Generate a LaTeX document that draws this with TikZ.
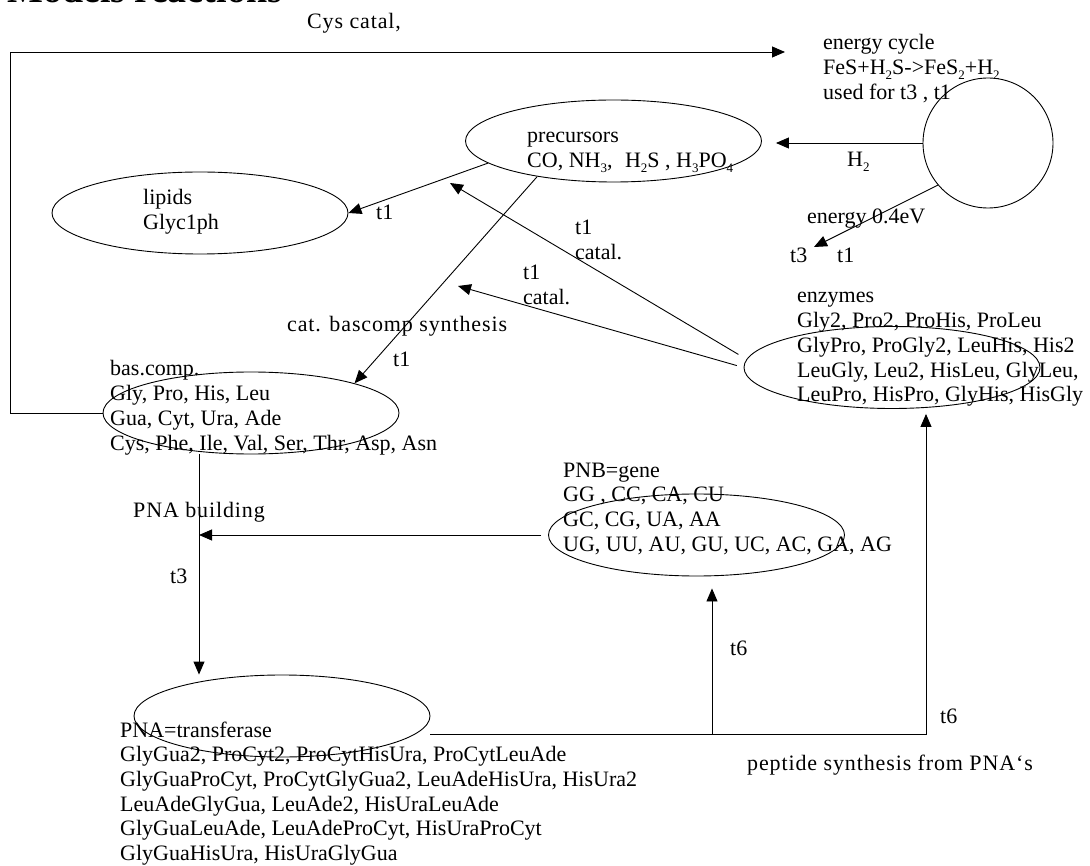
\documentclass[tikz,border=0pt]{standalone}
\usepackage{fontspec}
\setmainfont{Liberation Serif}
\usetikzlibrary{shapes.geometric,arrows.meta}
\newcommand\subs[1]{\raisebox{-4.5pt}{\fontsize{13}{13}\selectfont #1}}
\newcommand\txtlines[1]{\vtop{\baselineskip=24.7pt\lineskiplimit=-30pt\lineskip=0pt #1}}
\begin{document}
\begin{tikzpicture}[x=1pt,y=-1pt,
  font=\fontsize{22}{24.7}\selectfont,
  ell/.style={draw, ellipse, minimum width=296pt, minimum height=82pt, inner sep=0pt, line width=0.9pt},
  txt/.style={anchor=base west, inner sep=0pt},
  wide/.style={font=\fontsize{22}{24.7}\selectfont\addfontfeature{LetterSpace=4}},
  ln/.style={draw, line width=0.9pt},
  arr/.style={draw, line width=0.9pt, -{Triangle[length=13pt,width=11pt]}}]
\useasboundingbox (0,0) rectangle (1090,866);
\clip (0,0) rectangle (1090,866);

% title (cut off at top)
\node[txt, font=\bfseries\fontsize{38}{40}\selectfont] (title) at (7,3) {Models reactions};

% shapes
\node[ell] (lip) at (200,213) {};
\node[ell] (prec) at (613.5,141) {};
\node[ell] (bas) at (251,413) {};
\node[ell] (enz) at (892,367.5) {};
\node[ell] (pnb) at (696.5,535) {};
\node[ell] (pna) at (282,716) {};
\node[draw, circle, minimum size=130pt, inner sep=0pt, line width=0.9pt] (cyc) at (988,143) {};

% texts
\node[txt] (ectext) at (823,50) {\txtlines{\hbox{energy cycle}\hbox{FeS+H\subs{2}S->FeS\subs{2}+H\subs{2}}\hbox{used for t3 , t1}}};
\node[txt] (prectext) at (527,143) {\txtlines{\hbox{precursors}\hbox{CO, NH\subs{3},\hspace{7pt} H\subs{2}S , H\subs{3}PO\subs{4}}}};
\node[txt] (liptext) at (143,205) {\txtlines{\hbox{lipids}\hbox{Glyc1ph}}};
\node[txt] (enztext) at (797,303) {\txtlines{\hbox{enzymes}\hbox{Gly2, Pro2, ProHis, ProLeu}\hbox{GlyPro, ProGly2, LeuHis, His2}\hbox{LeuGly, Leu2, HisLeu, GlyLeu,}\hbox{LeuPro, HisPro, GlyHis, HisGly}}};
\node[txt] (bastext) at (110,376) {\txtlines{\hbox{bas.comp.}\hbox{Gly, Pro, His, Leu}\hbox{Gua, Cyt, Ura, Ade}\hbox{Cys, Phe, Ile, Val, Ser, Thr, Asp, Asn}}};
\node[txt] (pnbtext) at (563,477) {\txtlines{\hbox{PNB=gene}\hbox{GG , CC, CA, CU}\hbox{GC, CG, UA, AA}\hbox{UG, UU, AU, GU, UC, AC, GA, AG}}};
\node[txt] (pnatext) at (120,737) {\txtlines{\hbox{PNA=transferase}\hbox{GlyGua2, ProCyt2, ProCytHisUra, ProCytLeuAde}\hbox{GlyGuaProCyt, ProCytGlyGua2, LeuAdeHisUra, HisUra2}\hbox{LeuAdeGlyGua, LeuAde2, HisUraLeuAde}\hbox{GlyGuaLeuAde, LeuAdeProCyt, HisUraProCyt}\hbox{GlyGuaHisUra, HisUraGlyGua}}};

% labels
\node[txt, wide] (cyslab) at (307,29) {Cys catal,};
\node[txt] (h2lab) at (847,167) {H\subs{2}};
\node[txt] (enlab) at (807,224) {energy 0.4eV};
\node[txt] (t3a) at (790,263) {t3};
\node[txt] (t1a) at (837,263) {t1};
\node[txt] (t1lip) at (376,220) {t1};
\node[txt] (cat1) at (575,235) {\txtlines{\hbox{t1}\hbox{catal.}}};
\node[txt] (cat2) at (523,280) {\txtlines{\hbox{t1}\hbox{catal.}}};
\node[txt, wide] (bclab) at (287,332) {cat. bascomp synthesis};
\node[txt] (t1bc) at (393,367) {t1};
\node[txt, wide] (pnablab) at (133,517) {PNA building};
\node[txt] (t3b) at (170,583) {t3};
\node[txt] (t6a) at (730,655) {t6};
\node[txt] (t6b) at (940,723) {t6};
\node[txt, wide] (peplab) at (747,770) {peptide synthesis from PNA‘s};

% helper coordinates
\coordinate (ectip) at (785,52);
\coordinate (leftx) at (10,0);
\coordinate (entip) at (814,247);
\coordinate (catA) at (450,183);
\coordinate (catB) at (458,286);
\coordinate (vx) at (199,0);
\coordinate (ax) at (712,0);
\coordinate (ex) at (926,0);

% connectors
\draw[arr] (bas.west) -- (bas.west -| leftx) |- (ectip);
\draw[arr, shorten >=14pt] (cyc.west) -- (cyc.west -| prec.east);
\draw[arr] (cyc.220) -- (entip);
\draw[arr] (prec.190) -- (lip.east);
\draw[arr] (prec.205) -- (bas.16);
\draw[arr, shorten <=6pt] ([yshift=10pt]enz.west) -- (catA);
\draw[arr, shorten <=7pt] (enz.west) -- (catB);
\draw[arr, shorten <=7pt] (pnb.west) -- (pnb.west -| vx);
\draw[arr] (vx |- bas.south) -- (vx |- pna.north);
\draw[arr, shorten >=5pt] ([yshift=-18pt]pna.east) -| (ex |- enz.south);
\draw[arr, shorten >=12pt] ([yshift=-18pt]pna.east -| ax) -- (ax |- pnb.south);
\end{tikzpicture}
\end{document}
